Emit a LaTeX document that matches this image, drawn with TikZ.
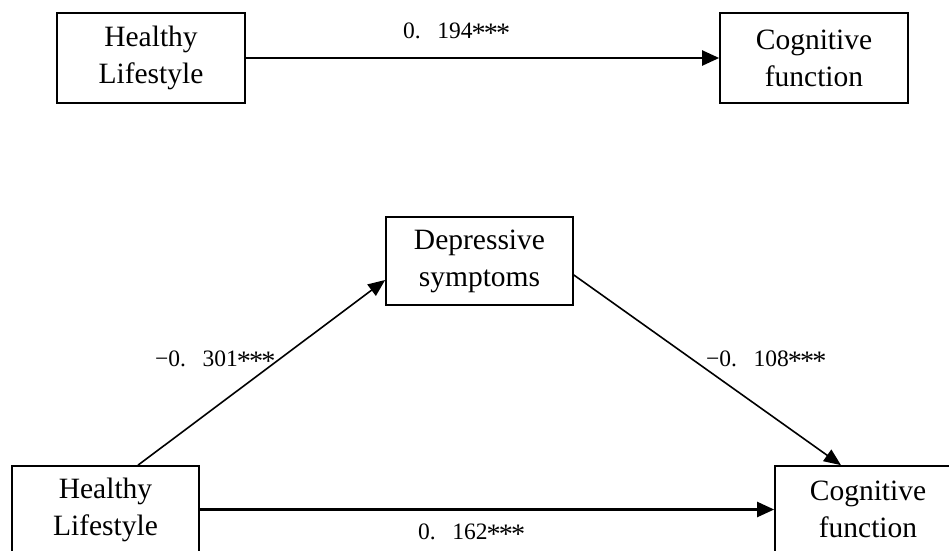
\documentclass[tikz,border=0pt]{standalone}
\usepackage{fontspec}
\usepackage{graphicx}
\setmainfont{Liberation Serif}
\usetikzlibrary{arrows.meta}
\newcommand{\lbldot}{\makebox[0.95em][l]{.}}
\newcommand{\lblast}{\makebox[0.52em]{\raisebox{-0.2em}{\scalebox{1.2}{*}}}}
\newcommand{\lblstars}{\lblast\lblast\lblast}
\tikzset{
  boxnode/.style={draw=black, line width=1.7pt, minimum width=#1, inner sep=0pt, align=center,
    font=\fontsize{29.5}{37}\selectfont},
  lblnode/.style={anchor=base west, inner sep=0pt, font=\fontsize{23.5}{26}\selectfont},
  conn/.style={draw=black, line width=2.2pt, -{Triangle[length=17pt,width=15pt]}},
  dconn/.style={draw=black, line width=1.6pt, -{Triangle[length=17pt,width=14pt]}}
}
\begin{document}
\begin{tikzpicture}[x=1pt,y=-1pt]
\clip (0,0) rectangle (949,550);
\useasboundingbox (0,0) rectangle (949,550);
\fill[white] (0,0) rectangle (949,550);
% top model
\node[boxnode=188pt, minimum height=90pt] (tl) at (151,58) {Healthy\\Lifestyle};
\node[boxnode=188pt, minimum height=90pt] (tr) at (814,58) {Cognitive\\function};
\draw[conn] (tl.east) -- (tr.west);
\node[lblnode] (l1) at (403,38) {0\lbldot194\lblstars};
% mediation model
\node[boxnode=187pt, minimum height=88pt] (dep) at (479.5,261) {Depressive\\symptoms};
\node[boxnode=187pt, minimum height=87pt] (bl) at (105.5,509.5) {Healthy\\Lifestyle};
\node[boxnode=186pt, minimum height=87pt] (br) at (868,509.5) {Cognitive\\function};
\draw[dconn] ([xshift=32.5pt]bl.north) -- ([yshift=-19pt]dep.west);
\draw[dconn] ([yshift=-14pt]dep.east) -- ([xshift=-27pt]br.north);
\draw[conn] (bl.east) -- (br.west);
\node[lblnode] (l2) at (155,366) {−0\lbldot301\lblstars};
\node[lblnode] (l3) at (706,366) {−0\lbldot108\lblstars};
\node[lblnode] (l4) at (418,539) {0\lbldot162\lblstars};
\end{tikzpicture}
\end{document}
